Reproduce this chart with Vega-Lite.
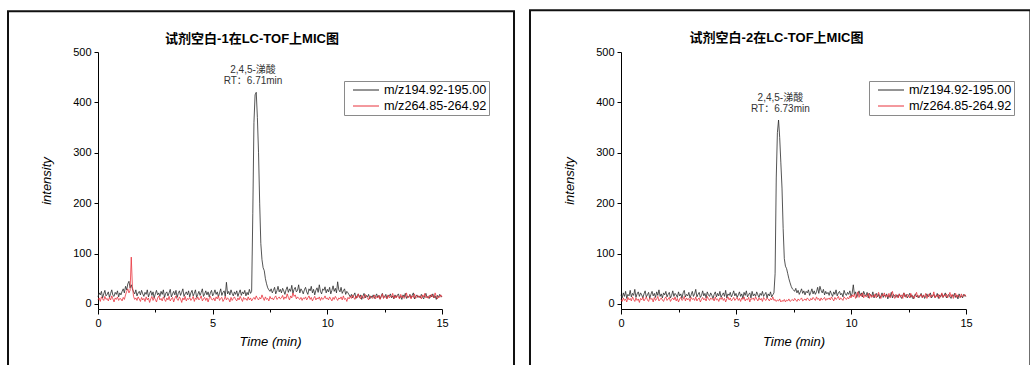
{
"$schema":"https://vega.github.io/schema/vega-lite/v6.json",
"background":"white",
"padding":{"left":7,"top":9,"right":0,"bottom":0},
"spacing":12,
"datasets":{
"p1":[{"t":0,"a":14,"b":8},{"t":0.05,"a":22,"b":12},{"t":0.1,"a":18,"b":5},{"t":0.15,"a":25,"b":14},{"t":0.2,"a":12,"b":10},{"t":0.25,"a":20,"b":7},{"t":0.3,"a":27,"b":15},{"t":0.35,"a":16,"b":9},{"t":0.4,"a":19,"b":11},{"t":0.45,"a":24,"b":6},{"t":0.5,"a":13,"b":13},{"t":0.55,"a":21,"b":8},{"t":0.6,"a":28,"b":16},{"t":0.65,"a":17,"b":10},{"t":0.7,"a":15,"b":4},{"t":0.75,"a":23,"b":12},{"t":0.8,"a":19,"b":9},{"t":0.85,"a":26,"b":14},{"t":0.9,"a":14,"b":7},{"t":0.95,"a":22,"b":11},
{"t":1,"a":18,"b":10},{"t":1.05,"a":25,"b":6},{"t":1.1,"a":30,"b":13},{"t":1.15,"a":22,"b":9},{"t":1.2,"a":35,"b":18},{"t":1.25,"a":28,"b":25},{"t":1.3,"a":40,"b":30},{"t":1.35,"a":45,"b":22},{"t":1.4,"a":32,"b":27},{"t":1.45,"a":38,"b":93},{"t":1.5,"a":30,"b":35},{"t":1.55,"a":24,"b":15},{"t":1.6,"a":20,"b":9},{"t":1.65,"a":28,"b":12},{"t":1.7,"a":16,"b":7},{"t":1.75,"a":22,"b":14},{"t":1.8,"a":25,"b":10},{"t":1.85,"a":18,"b":5},{"t":1.9,"a":27,"b":13},{"t":1.95,"a":20,"b":8},
{"t":2,"a":15,"b":11},{"t":2.05,"a":23,"b":5},{"t":2.1,"a":19,"b":14},{"t":2.15,"a":28,"b":8},{"t":2.2,"a":14,"b":12},{"t":2.25,"a":21,"b":3},{"t":2.3,"a":26,"b":10},{"t":2.35,"a":17,"b":15},{"t":2.4,"a":24,"b":7},{"t":2.45,"a":12,"b":13},{"t":2.5,"a":20,"b":9},{"t":2.55,"a":27,"b":4},{"t":2.6,"a":18,"b":12},{"t":2.65,"a":22,"b":16},{"t":2.7,"a":15,"b":8},{"t":2.75,"a":25,"b":11},{"t":2.8,"a":19,"b":6},{"t":2.85,"a":28,"b":14},{"t":2.9,"a":13,"b":9},{"t":2.95,"a":21,"b":5},
{"t":3,"a":24,"b":12},{"t":3.05,"a":16,"b":8},{"t":3.1,"a":22,"b":15},{"t":3.15,"a":29,"b":6},{"t":3.2,"a":14,"b":10},{"t":3.25,"a":20,"b":13},{"t":3.3,"a":25,"b":4},{"t":3.35,"a":18,"b":11},{"t":3.4,"a":27,"b":16},{"t":3.45,"a":13,"b":9},{"t":3.5,"a":21,"b":7},{"t":3.55,"a":26,"b":14},{"t":3.6,"a":17,"b":10},{"t":3.65,"a":23,"b":3},{"t":3.7,"a":30,"b":12},{"t":3.75,"a":15,"b":8},{"t":3.8,"a":20,"b":15},{"t":3.85,"a":24,"b":6},{"t":3.9,"a":18,"b":11},{"t":3.95,"a":26,"b":9},
{"t":4,"a":14,"b":13},{"t":4.05,"a":22,"b":7},{"t":4.1,"a":27,"b":10},{"t":4.15,"a":16,"b":15},{"t":4.2,"a":21,"b":5},{"t":4.25,"a":28,"b":12},{"t":4.3,"a":13,"b":9},{"t":4.35,"a":19,"b":14},{"t":4.4,"a":25,"b":8},{"t":4.45,"a":17,"b":11},{"t":4.5,"a":23,"b":16},{"t":4.55,"a":30,"b":6},{"t":4.6,"a":15,"b":10},{"t":4.65,"a":20,"b":13},{"t":4.7,"a":26,"b":7},{"t":4.75,"a":18,"b":12},{"t":4.8,"a":24,"b":4},{"t":4.85,"a":14,"b":11},{"t":4.9,"a":22,"b":15},{"t":4.95,"a":27,"b":9},
{"t":5,"a":16,"b":8},{"t":5.05,"a":21,"b":12},{"t":5.1,"a":28,"b":6},{"t":5.15,"a":19,"b":14},{"t":5.2,"a":24,"b":10},{"t":5.25,"a":14,"b":16},{"t":5.3,"a":22,"b":7},{"t":5.35,"a":30,"b":11},{"t":5.4,"a":17,"b":13},{"t":5.45,"a":23,"b":5},{"t":5.5,"a":26,"b":9},{"t":5.55,"a":15,"b":15},{"t":5.6,"a":43,"b":8},{"t":5.65,"a":20,"b":12},{"t":5.7,"a":25,"b":10},{"t":5.75,"a":18,"b":4},{"t":5.8,"a":28,"b":13},{"t":5.85,"a":21,"b":7},{"t":5.9,"a":16,"b":11},{"t":5.95,"a":24,"b":14},
{"t":6,"a":19,"b":9},{"t":6.05,"a":26,"b":6},{"t":6.1,"a":15,"b":12},{"t":6.15,"a":22,"b":8},{"t":6.2,"a":28,"b":15},{"t":6.25,"a":17,"b":10},{"t":6.3,"a":24,"b":5},{"t":6.35,"a":20,"b":13},{"t":6.4,"a":27,"b":9},{"t":6.45,"a":16,"b":11},{"t":6.5,"a":23,"b":7},{"t":6.55,"a":18,"b":14},{"t":6.6,"a":29,"b":8},{"t":6.65,"a":21,"b":12},{"t":6.7,"a":25,"b":6},{"t":6.75,"a":180,"b":10},{"t":6.8,"a":360,"b":13},{"t":6.85,"a":415,"b":9},{"t":6.9,"a":420,"b":16},{"t":6.95,"a":370,"b":11},
{"t":7,"a":300,"b":8},{"t":7.05,"a":200,"b":13},{"t":7.1,"a":120,"b":10},{"t":7.15,"a":88,"b":18},{"t":7.2,"a":72,"b":12},{"t":7.25,"a":66,"b":7},{"t":7.3,"a":50,"b":14},{"t":7.35,"a":40,"b":9},{"t":7.4,"a":32,"b":11},{"t":7.45,"a":28,"b":6},{"t":7.5,"a":25,"b":15},{"t":7.55,"a":30,"b":10},{"t":7.6,"a":22,"b":12},{"t":7.65,"a":27,"b":8},{"t":7.7,"a":33,"b":13},{"t":7.75,"a":20,"b":16},{"t":7.8,"a":26,"b":9},{"t":7.85,"a":35,"b":11},{"t":7.9,"a":24,"b":14},{"t":7.95,"a":29,"b":10},
{"t":8,"a":22,"b":12},{"t":8.05,"a":31,"b":17},{"t":8.1,"a":26,"b":9},{"t":8.15,"a":19,"b":14},{"t":8.2,"a":28,"b":11},{"t":8.25,"a":34,"b":20},{"t":8.3,"a":23,"b":13},{"t":8.35,"a":30,"b":8},{"t":8.4,"a":25,"b":16},{"t":8.45,"a":37,"b":12},{"t":8.5,"a":21,"b":22},{"t":8.55,"a":29,"b":15},{"t":8.6,"a":33,"b":18},{"t":8.65,"a":24,"b":10},{"t":8.7,"a":27,"b":14},{"t":8.75,"a":38,"b":11},{"t":8.8,"a":22,"b":9},{"t":8.85,"a":30,"b":13},{"t":8.9,"a":26,"b":7},{"t":8.95,"a":20,"b":12},
{"t":9,"a":28,"b":10},{"t":9.05,"a":33,"b":14},{"t":9.1,"a":24,"b":8},{"t":9.15,"a":19,"b":12},{"t":9.2,"a":30,"b":16},{"t":9.25,"a":26,"b":9},{"t":9.3,"a":35,"b":13},{"t":9.35,"a":22,"b":6},{"t":9.4,"a":29,"b":11},{"t":9.45,"a":18,"b":15},{"t":9.5,"a":27,"b":8},{"t":9.55,"a":32,"b":12},{"t":9.6,"a":23,"b":10},{"t":9.65,"a":38,"b":14},{"t":9.7,"a":25,"b":7},{"t":9.75,"a":20,"b":13},{"t":9.8,"a":30,"b":9},{"t":9.85,"a":27,"b":11},{"t":9.9,"a":34,"b":16},{"t":9.95,"a":22,"b":10},
{"t":10,"a":29,"b":12},{"t":10.05,"a":24,"b":8},{"t":10.1,"a":33,"b":14},{"t":10.15,"a":20,"b":10},{"t":10.2,"a":27,"b":6},{"t":10.25,"a":36,"b":13},{"t":10.3,"a":25,"b":9},{"t":10.35,"a":31,"b":15},{"t":10.4,"a":22,"b":11},{"t":10.45,"a":44,"b":7},{"t":10.5,"a":28,"b":12},{"t":10.55,"a":24,"b":10},{"t":10.6,"a":33,"b":14},{"t":10.65,"a":21,"b":8},{"t":10.7,"a":26,"b":16},{"t":10.75,"a":30,"b":9},{"t":10.8,"a":19,"b":11},{"t":10.85,"a":25,"b":5},{"t":10.9,"a":22,"b":13},{"t":10.95,"a":18,"b":10},
{"t":11,"a":14,"b":15},{"t":11.05,"a":19,"b":11},{"t":11.1,"a":12,"b":18},{"t":11.15,"a":17,"b":13},{"t":11.2,"a":22,"b":9},{"t":11.25,"a":11,"b":16},{"t":11.3,"a":16,"b":12},{"t":11.35,"a":20,"b":20},{"t":11.4,"a":13,"b":14},{"t":11.45,"a":18,"b":10},{"t":11.5,"a":9,"b":17},{"t":11.55,"a":15,"b":13},{"t":11.6,"a":21,"b":11},{"t":11.65,"a":12,"b":19},{"t":11.7,"a":17,"b":15},{"t":11.75,"a":14,"b":12},{"t":11.8,"a":19,"b":8},{"t":11.85,"a":10,"b":16},{"t":11.9,"a":16,"b":14},{"t":11.95,"a":13,"b":11},
{"t":12,"a":18,"b":13},{"t":12.05,"a":11,"b":18},{"t":12.1,"a":15,"b":10},{"t":12.15,"a":20,"b":15},{"t":12.2,"a":13,"b":12},{"t":12.25,"a":17,"b":17},{"t":12.3,"a":10,"b":9},{"t":12.35,"a":16,"b":14},{"t":12.4,"a":21,"b":20},{"t":12.45,"a":12,"b":11},{"t":12.5,"a":14,"b":16},{"t":12.55,"a":19,"b":13},{"t":12.6,"a":11,"b":10},{"t":12.65,"a":17,"b":18},{"t":12.7,"a":15,"b":12},{"t":12.75,"a":20,"b":15},{"t":12.8,"a":12,"b":14},{"t":12.85,"a":16,"b":21},{"t":12.9,"a":10,"b":11},{"t":12.95,"a":18,"b":16},
{"t":13,"a":13,"b":12},{"t":13.05,"a":17,"b":17},{"t":13.1,"a":20,"b":14},{"t":13.15,"a":12,"b":10},{"t":13.2,"a":15,"b":19},{"t":13.25,"a":9,"b":13},{"t":13.3,"a":18,"b":16},{"t":13.35,"a":14,"b":11},{"t":13.4,"a":21,"b":15},{"t":13.45,"a":11,"b":22},{"t":13.5,"a":16,"b":12},{"t":13.55,"a":13,"b":14},{"t":13.6,"a":19,"b":18},{"t":13.65,"a":12,"b":10},{"t":13.7,"a":17,"b":16},{"t":13.75,"a":22,"b":13},{"t":13.8,"a":10,"b":20},{"t":13.85,"a":15,"b":11},{"t":13.9,"a":18,"b":15},{"t":13.95,"a":13,"b":17},
{"t":14,"a":16,"b":13},{"t":14.05,"a":12,"b":16},{"t":14.1,"a":19,"b":10},{"t":14.15,"a":14,"b":18},{"t":14.2,"a":10,"b":14},{"t":14.25,"a":17,"b":21},{"t":14.3,"a":21,"b":12},{"t":14.35,"a":13,"b":15},{"t":14.4,"a":15,"b":11},{"t":14.45,"a":11,"b":17},{"t":14.5,"a":18,"b":13},{"t":14.55,"a":14,"b":19},{"t":14.6,"a":20,"b":14},{"t":14.65,"a":12,"b":12},{"t":14.7,"a":16,"b":22},{"t":14.75,"a":9,"b":15},{"t":14.8,"a":17,"b":10},{"t":14.85,"a":13,"b":16},{"t":14.9,"a":19,"b":13},{"t":14.95,"a":15,"b":18},{"t":15,"a":14,"b":14}],
"p2":[{"t":0,"a":18,"b":9},{"t":0.05,"a":12,"b":5},{"t":0.1,"a":22,"b":12},{"t":0.15,"a":15,"b":7},{"t":0.2,"a":25,"b":10},{"t":0.25,"a":11,"b":4},{"t":0.3,"a":19,"b":13},{"t":0.35,"a":16,"b":8},{"t":0.4,"a":27,"b":11},{"t":0.45,"a":14,"b":6},{"t":0.5,"a":21,"b":14},{"t":0.55,"a":17,"b":9},{"t":0.6,"a":29,"b":5},{"t":0.65,"a":13,"b":12},{"t":0.7,"a":20,"b":7},{"t":0.75,"a":24,"b":10},{"t":0.8,"a":15,"b":3},{"t":0.85,"a":22,"b":11},{"t":0.9,"a":18,"b":8},{"t":0.95,"a":12,"b":13},
{"t":1,"a":20,"b":6},{"t":1.05,"a":26,"b":10},{"t":1.1,"a":14,"b":14},{"t":1.15,"a":18,"b":8},{"t":1.2,"a":23,"b":5},{"t":1.25,"a":11,"b":12},{"t":1.3,"a":19,"b":9},{"t":1.35,"a":25,"b":11},{"t":1.4,"a":16,"b":4},{"t":1.45,"a":21,"b":13},{"t":1.5,"a":13,"b":7},{"t":1.55,"a":24,"b":10},{"t":1.6,"a":17,"b":15},{"t":1.65,"a":28,"b":6},{"t":1.7,"a":15,"b":9},{"t":1.75,"a":20,"b":12},{"t":1.8,"a":12,"b":8},{"t":1.85,"a":22,"b":5},{"t":1.9,"a":18,"b":11},{"t":1.95,"a":25,"b":14},
{"t":2,"a":14,"b":7},{"t":2.05,"a":19,"b":10},{"t":2.1,"a":23,"b":13},{"t":2.15,"a":12,"b":5},{"t":2.2,"a":17,"b":9},{"t":2.25,"a":26,"b":12},{"t":2.3,"a":15,"b":8},{"t":2.35,"a":21,"b":14},{"t":2.4,"a":18,"b":6},{"t":2.45,"a":13,"b":11},{"t":2.5,"a":24,"b":4},{"t":2.55,"a":16,"b":10},{"t":2.6,"a":20,"b":13},{"t":2.65,"a":11,"b":7},{"t":2.7,"a":22,"b":9},{"t":2.75,"a":27,"b":15},{"t":2.8,"a":14,"b":6},{"t":2.85,"a":19,"b":12},{"t":2.9,"a":16,"b":8},{"t":2.95,"a":23,"b":11},
{"t":3,"a":12,"b":5},{"t":3.05,"a":18,"b":13},{"t":3.1,"a":25,"b":9},{"t":3.15,"a":15,"b":11},{"t":3.2,"a":20,"b":7},{"t":3.25,"a":29,"b":14},{"t":3.3,"a":14,"b":6},{"t":3.35,"a":19,"b":10},{"t":3.4,"a":23,"b":12},{"t":3.45,"a":13,"b":4},{"t":3.5,"a":17,"b":9},{"t":3.55,"a":26,"b":13},{"t":3.6,"a":16,"b":8},{"t":3.65,"a":21,"b":11},{"t":3.7,"a":12,"b":6},{"t":3.75,"a":24,"b":15},{"t":3.8,"a":18,"b":10},{"t":3.85,"a":15,"b":7},{"t":3.9,"a":22,"b":12},{"t":3.95,"a":17,"b":9},
{"t":4,"a":11,"b":11},{"t":4.05,"a":19,"b":6},{"t":4.1,"a":24,"b":14},{"t":4.15,"a":14,"b":8},{"t":4.2,"a":21,"b":10},{"t":4.25,"a":16,"b":5},{"t":4.3,"a":25,"b":12},{"t":4.35,"a":13,"b":9},{"t":4.4,"a":18,"b":13},{"t":4.45,"a":22,"b":7},{"t":4.5,"a":15,"b":11},{"t":4.55,"a":27,"b":4},{"t":4.6,"a":12,"b":10},{"t":4.65,"a":20,"b":14},{"t":4.7,"a":17,"b":8},{"t":4.75,"a":23,"b":12},{"t":4.8,"a":14,"b":6},{"t":4.85,"a":19,"b":9},{"t":4.9,"a":26,"b":13},{"t":4.95,"a":16,"b":7},
{"t":5,"a":21,"b":10},{"t":5.05,"a":13,"b":13},{"t":5.1,"a":18,"b":7},{"t":5.15,"a":24,"b":11},{"t":5.2,"a":15,"b":5},{"t":5.25,"a":20,"b":12},{"t":5.3,"a":11,"b":9},{"t":5.35,"a":23,"b":14},{"t":5.4,"a":17,"b":6},{"t":5.45,"a":26,"b":10},{"t":5.5,"a":14,"b":8},{"t":5.55,"a":19,"b":13},{"t":5.6,"a":22,"b":4},{"t":5.65,"a":12,"b":11},{"t":5.7,"a":25,"b":9},{"t":5.75,"a":16,"b":12},{"t":5.8,"a":20,"b":7},{"t":5.85,"a":15,"b":14},{"t":5.9,"a":24,"b":10},{"t":5.95,"a":18,"b":6},
{"t":6,"a":13,"b":12},{"t":6.05,"a":21,"b":8},{"t":6.1,"a":17,"b":11},{"t":6.15,"a":25,"b":5},{"t":6.2,"a":15,"b":13},{"t":6.25,"a":19,"b":9},{"t":6.3,"a":23,"b":7},{"t":6.35,"a":12,"b":12},{"t":6.4,"a":20,"b":10},{"t":6.45,"a":16,"b":6},{"t":6.5,"a":24,"b":11},{"t":6.55,"a":14,"b":8},{"t":6.6,"a":18,"b":14},{"t":6.65,"a":22,"b":7},{"t":6.7,"a":60,"b":9},{"t":6.75,"a":250,"b":5},{"t":6.8,"a":340,"b":8},{"t":6.85,"a":365,"b":6},{"t":6.9,"a":330,"b":10},{"t":6.95,"a":280,"b":4},
{"t":7,"a":230,"b":7},{"t":7.05,"a":150,"b":5},{"t":7.1,"a":90,"b":9},{"t":7.15,"a":75,"b":4},{"t":7.2,"a":70,"b":8},{"t":7.25,"a":60,"b":6},{"t":7.3,"a":50,"b":10},{"t":7.35,"a":42,"b":5},{"t":7.4,"a":35,"b":7},{"t":7.45,"a":30,"b":9},{"t":7.5,"a":28,"b":6},{"t":7.55,"a":25,"b":11},{"t":7.6,"a":31,"b":8},{"t":7.65,"a":22,"b":5},{"t":7.7,"a":27,"b":10},{"t":7.75,"a":19,"b":7},{"t":7.8,"a":24,"b":9},{"t":7.85,"a":30,"b":12},{"t":7.9,"a":21,"b":6},{"t":7.95,"a":26,"b":8},
{"t":8,"a":18,"b":10},{"t":8.05,"a":25,"b":7},{"t":8.1,"a":22,"b":12},{"t":8.15,"a":28,"b":9},{"t":8.2,"a":17,"b":6},{"t":8.25,"a":23,"b":11},{"t":8.3,"a":30,"b":8},{"t":8.35,"a":20,"b":13},{"t":8.4,"a":26,"b":10},{"t":8.45,"a":19,"b":7},{"t":8.5,"a":24,"b":14},{"t":8.55,"a":33,"b":9},{"t":8.6,"a":21,"b":11},{"t":8.65,"a":35,"b":6},{"t":8.7,"a":27,"b":12},{"t":8.75,"a":22,"b":8},{"t":8.8,"a":29,"b":10},{"t":8.85,"a":18,"b":13},{"t":8.9,"a":25,"b":7},{"t":8.95,"a":20,"b":11},
{"t":9,"a":23,"b":9},{"t":9.05,"a":17,"b":12},{"t":9.1,"a":26,"b":8},{"t":9.15,"a":20,"b":14},{"t":9.2,"a":15,"b":10},{"t":9.25,"a":24,"b":6},{"t":9.3,"a":19,"b":13},{"t":9.35,"a":28,"b":9},{"t":9.4,"a":16,"b":11},{"t":9.45,"a":22,"b":15},{"t":9.5,"a":25,"b":8},{"t":9.55,"a":18,"b":12},{"t":9.6,"a":21,"b":10},{"t":9.65,"a":14,"b":7},{"t":9.7,"a":27,"b":14},{"t":9.75,"a":20,"b":11},{"t":9.8,"a":17,"b":9},{"t":9.85,"a":23,"b":13},{"t":9.9,"a":19,"b":10},{"t":9.95,"a":26,"b":16},
{"t":10,"a":15,"b":12},{"t":10.05,"a":21,"b":18},{"t":10.1,"a":38,"b":14},{"t":10.15,"a":18,"b":20},{"t":10.2,"a":24,"b":11},{"t":10.25,"a":13,"b":17},{"t":10.3,"a":20,"b":24},{"t":10.35,"a":26,"b":13},{"t":10.4,"a":17,"b":19},{"t":10.45,"a":22,"b":15},{"t":10.5,"a":14,"b":22},{"t":10.55,"a":25,"b":12},{"t":10.6,"a":19,"b":18},{"t":10.65,"a":16,"b":14},{"t":10.7,"a":23,"b":16},{"t":10.75,"a":12,"b":21},{"t":10.8,"a":21,"b":11},{"t":10.85,"a":18,"b":19},{"t":10.9,"a":15,"b":13},{"t":10.95,"a":24,"b":17},
{"t":11,"a":12,"b":14},{"t":11.05,"a":17,"b":20},{"t":11.1,"a":21,"b":12},{"t":11.15,"a":14,"b":17},{"t":11.2,"a":19,"b":23},{"t":11.25,"a":11,"b":15},{"t":11.3,"a":16,"b":11},{"t":11.35,"a":22,"b":19},{"t":11.4,"a":13,"b":16},{"t":11.45,"a":18,"b":22},{"t":11.5,"a":15,"b":13},{"t":11.55,"a":20,"b":18},{"t":11.6,"a":10,"b":14},{"t":11.65,"a":17,"b":21},{"t":11.7,"a":14,"b":12},{"t":11.75,"a":23,"b":17},{"t":11.8,"a":12,"b":25},{"t":11.85,"a":19,"b":15},{"t":11.9,"a":16,"b":11},{"t":11.95,"a":13,"b":19},
{"t":12,"a":18,"b":16},{"t":12.05,"a":13,"b":12},{"t":12.1,"a":20,"b":20},{"t":12.15,"a":15,"b":14},{"t":12.2,"a":11,"b":18},{"t":12.25,"a":17,"b":11},{"t":12.3,"a":22,"b":22},{"t":12.35,"a":14,"b":15},{"t":12.4,"a":19,"b":13},{"t":12.45,"a":12,"b":19},{"t":12.5,"a":16,"b":17},{"t":12.55,"a":21,"b":12},{"t":12.6,"a":13,"b":21},{"t":12.65,"a":18,"b":14},{"t":12.7,"a":10,"b":16},{"t":12.75,"a":15,"b":11},{"t":12.8,"a":20,"b":18},{"t":12.85,"a":14,"b":23},{"t":12.9,"a":17,"b":13},{"t":12.95,"a":12,"b":17},
{"t":13,"a":16,"b":15},{"t":13.05,"a":21,"b":19},{"t":13.1,"a":13,"b":12},{"t":13.15,"a":18,"b":17},{"t":13.2,"a":11,"b":14},{"t":13.25,"a":15,"b":21},{"t":13.3,"a":20,"b":11},{"t":13.35,"a":14,"b":16},{"t":13.4,"a":17,"b":20},{"t":13.45,"a":22,"b":13},{"t":13.5,"a":12,"b":18},{"t":13.55,"a":16,"b":15},{"t":13.6,"a":19,"b":24},{"t":13.65,"a":13,"b":12},{"t":13.7,"a":15,"b":17},{"t":13.75,"a":21,"b":14},{"t":13.8,"a":11,"b":19},{"t":13.85,"a":18,"b":11},{"t":13.9,"a":14,"b":16},{"t":13.95,"a":20,"b":22},
{"t":14,"a":13,"b":13},{"t":14.05,"a":17,"b":18},{"t":14.1,"a":22,"b":15},{"t":14.15,"a":12,"b":20},{"t":14.2,"a":16,"b":12},{"t":14.25,"a":19,"b":17},{"t":14.3,"a":14,"b":23},{"t":14.35,"a":11,"b":14},{"t":14.4,"a":18,"b":19},{"t":14.45,"a":15,"b":11},{"t":14.5,"a":21,"b":16},{"t":14.55,"a":13,"b":21},{"t":14.6,"a":17,"b":13},{"t":14.65,"a":10,"b":18},{"t":14.7,"a":20,"b":15},{"t":14.75,"a":14,"b":12},{"t":14.8,"a":16,"b":20},{"t":14.85,"a":12,"b":14},{"t":14.9,"a":19,"b":17},{"t":14.95,"a":15,"b":19},{"t":15,"a":17,"b":15}],
"n1":[{"t":6.76,"v":464,"s":"2,4,5-涕酸"},{"t":6.76,"v":442,"s":"RT：6.71min"}],
"n2":[{"t":6.93,"v":408,"s":"2,4,5-涕酸"},{"t":6.93,"v":386,"s":"RT：6.73min"}]
},
"hconcat":[
{
"width":344,"height":257,
"title":{"text":"试剂空白-1在LC-TOF上MIC图","frame":"group","anchor":"middle","dx":-18,"offset":-36},
"layer":[
{"data":{"values":[{}]},"mark":{"type":"rect","filled":false,"stroke":"#111","strokeWidth":2,"clip":false},
"encoding":{"x":{"datum":-3.924,"type":"quantitative","scale":{"domain":[0,15],"nice":false,"zero":false}},"x2":{"datum":18.14},"y":{"datum":581,"type":"quantitative","scale":{"domain":[-10,500],"nice":false,"zero":false}},"y2":{"datum":-139}}},
{"data":{"name":"p1"},"transform":[{"fold":["a","b"],"as":["s","v"]}],"mark":{"type":"line","strokeWidth":0.8},
"encoding":{
"x":{"field":"t","type":"quantitative","scale":{"domain":[0,15],"nice":false,"zero":false},"axis":{"values":[0,2.5,5,7.5,10,12.5,15],"format":"d","labelExpr":"datum.value % 5 === 0 ? datum.label : ''","tickSize":{"condition":{"test":"datum.value % 5 === 0","value":5},"value":3},"labelPadding":3,"title":"Time (min)","titlePadding":7}},
"y":{"field":"v","type":"quantitative","scale":{"domain":[-10,500],"nice":false,"zero":false},"axis":{"values":[0,50,100,150,200,250,300,350,400,450,500],"format":"d","labelExpr":"datum.value % 100 === 0 ? datum.label : ''","tickSize":{"condition":{"test":"datum.value % 100 === 0","value":4},"value":2},"labelPadding":3,"title":"intensity","titlePadding":19}},
"color":{"field":"s","type":"nominal","scale":{"domain":["a","b"],"range":["#2a2a2a","#e8323c"]},"legend":{"orient":"none","legendX":246,"legendY":29,"title":null,"labelExpr":"datum.value === 'a' ? 'm/z194.92-195.00' : 'm/z264.85-264.92'"}}}},
{"data":{"name":"n1"},"mark":{"type":"text","fontSize":10,"font":"'Liberation Sans', 'Noto Sans CJK SC'","color":"#333","baseline":"middle","align":"center"},
"encoding":{"x":{"field":"t","type":"quantitative","scale":{"domain":[0,15],"nice":false,"zero":false}},"y":{"field":"v","type":"quantitative","scale":{"domain":[-10,500],"nice":false,"zero":false}},"text":{"field":"s"}}}
]
},
{
"width":345,"height":257,
"title":{"text":"试剂空白-2在LC-TOF上MIC图","frame":"group","anchor":"middle","dx":-17,"offset":-36},
"layer":[
{"data":{"values":[{}]},"mark":{"type":"rect","filled":false,"stroke":"#111","strokeWidth":2,"clip":false},
"encoding":{"x":{"datum":-3.957,"type":"quantitative","scale":{"domain":[0,15],"nice":false,"zero":false}},"x2":{"datum":17.8},"y":{"datum":583,"type":"quantitative","scale":{"domain":[-10,500],"nice":false,"zero":false}},"y2":{"datum":-139}}},
{"data":{"name":"p2"},"transform":[{"fold":["a","b"],"as":["s","v"]}],"mark":{"type":"line","strokeWidth":0.8},
"encoding":{
"x":{"field":"t","type":"quantitative","scale":{"domain":[0,15],"nice":false,"zero":false},"axis":{"values":[0,2.5,5,7.5,10,12.5,15],"format":"d","labelExpr":"datum.value % 5 === 0 ? datum.label : ''","tickSize":{"condition":{"test":"datum.value % 5 === 0","value":5},"value":3},"labelPadding":3,"title":"Time (min)","titlePadding":7}},
"y":{"field":"v","type":"quantitative","scale":{"domain":[-10,500],"nice":false,"zero":false},"axis":{"values":[0,50,100,150,200,250,300,350,400,450,500],"format":"d","labelExpr":"datum.value % 100 === 0 ? datum.label : ''","tickSize":{"condition":{"test":"datum.value % 100 === 0","value":4},"value":2},"labelPadding":3,"title":"intensity","titlePadding":19}},
"color":{"field":"s","type":"nominal","scale":{"domain":["a","b"],"range":["#2a2a2a","#e8323c"]},"legend":{"orient":"none","legendX":248,"legendY":29,"title":null,"labelExpr":"datum.value === 'a' ? 'm/z194.92-195.00' : 'm/z264.85-264.92'"}}}},
{"data":{"name":"n2"},"mark":{"type":"text","fontSize":10,"font":"'Liberation Sans', 'Noto Sans CJK SC'","color":"#333","baseline":"middle","align":"center"},
"encoding":{"x":{"field":"t","type":"quantitative","scale":{"domain":[0,15],"nice":false,"zero":false}},"y":{"field":"v","type":"quantitative","scale":{"domain":[-10,500],"nice":false,"zero":false}},"text":{"field":"s"}}}
]
}
],
"resolve":{"scale":{"color":"independent","x":"independent","y":"independent"},"legend":{"color":"independent"}},
"config":{
"view":{"stroke":null},
"font":"Liberation Sans",
"axis":{"grid":false,"domainColor":"#000","domainWidth":1,"tickColor":"#000","tickWidth":1,"labelColor":"#000","titleColor":"#000","labelFont":"Liberation Sans","labelFontSize":11,"titleFont":"Liberation Sans","titleFontSize":13,"titleFontStyle":"italic","titleFontWeight":"normal","labelFlush":false,"labelOverlap":false,"labelBound":false},
"legend":{"symbolType":"M-2,0H2","symbolSize":169,"symbolStrokeWidth":1,"labelFont":"Liberation Sans","labelFontSize":12.7,"labelColor":"#000","labelOffset":11,"labelLimit":0,"padding":2,"rowPadding":2,"symbolOffset":13,"strokeColor":"#8a8a8a","fillColor":"#fff","cornerRadius":0},
"title":{"font":"'Liberation Sans', 'Noto Sans CJK SC'","fontSize":13,"fontWeight":"bold","color":"#000"}
}
}
